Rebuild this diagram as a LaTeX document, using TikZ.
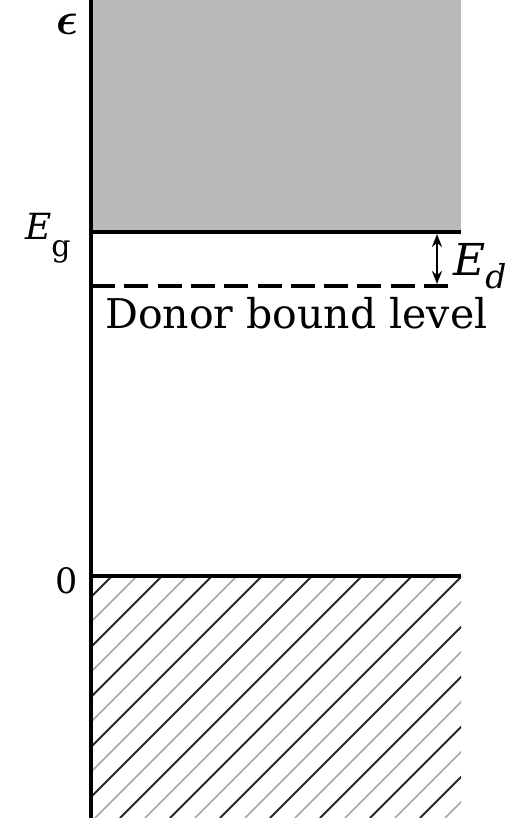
\documentclass[tikz,border=0pt]{standalone}
\usepackage{amsmath}
\usepackage{fontspec}
\setmainfont{DejaVu Serif}
\usetikzlibrary{arrows.meta}

\begin{document}
\begin{tikzpicture}[x=1pt,y=-1pt,
    level/.style={line width=3.8pt},
    hatchdark/.style={line width=1.8pt, black!85},
    hatchlight/.style={line width=1.5pt, black!35}]
  \useasboundingbox (0,0) rectangle (524,818);
  % band edges
  \coordinate (top) at (91,0);
  \coordinate (bot) at (91,818);
  \coordinate (cbl) at (91,232);
  \coordinate (cbr) at (461,232);
  \coordinate (dl) at (91,286);
  \coordinate (dr) at (448,286);
  \coordinate (vbl) at (91,576);
  \coordinate (vbr) at (461,576);
  \coordinate (edtop) at (437,234);
  \coordinate (edbot) at (437,284);
  % conduction band
  \fill[black!27] (top) rectangle (cbr);
  % valence band hatching
  \begin{scope}
    \clip (vbl) rectangle (461,818);
    \foreach \i in {-2,0,...,26}
      \draw[hatchdark] ({112+\i*25},576) -- ++(-242,242);
    \foreach \i in {-1,1,...,25}
      \draw[hatchlight] ({112+\i*25},576) -- ++(-242,242);
  \end{scope}
  % levels
  \draw[level] (cbl) -- (cbr);
  \draw[level] (vbl) -- (vbr);
  \draw[level, line width=4.4pt, dash pattern=on 24pt off 9.3pt] (dl) -- (dr);
  \draw[line width=3.8pt] (top) -- (bot);
  % binding energy
  \draw[line width=2.6pt, {Stealth[length=13pt,width=10pt]}-{Stealth[length=13pt,width=10pt]}] (edtop) -- (edbot);
  % labels
  \node[inner sep=0pt] (eps) at (67,24) {\scalebox{4.6}{$\boldsymbol{\epsilon}$}};
  \node[font=\fontsize{36}{40}\selectfont, anchor=base west, inner sep=0pt] (Eg) at (25,240)
    {\textit{E}\raisebox{-17pt}{\fontsize{30}{30}\selectfont g}};
  \node[font=\fontsize{44}{48}\selectfont, anchor=base west, inner sep=0pt] (Ed) at (453,275)
    {\textit{E}\raisebox{-13pt}{\fontsize{33}{34}\selectfont\itshape d}};
  \node[font=\fontsize{41}{45}\selectfont, anchor=base west, inner sep=0pt] (donor) at (105,328)
    {Donor bound level};
  \node[font=\fontsize{35}{38}\selectfont, anchor=base west, inner sep=0pt] (zero) at (55,593) {0};
\end{tikzpicture}
\end{document}
